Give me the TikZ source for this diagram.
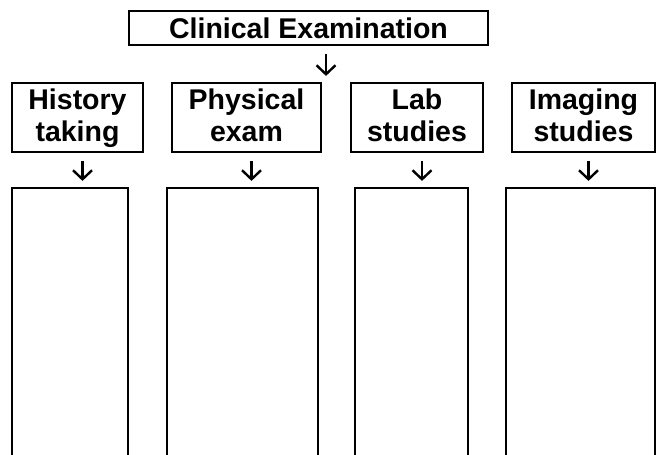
\documentclass[tikz,border=0pt]{standalone}
\usepackage{fontspec}
\setmainfont{Liberation Sans}
\usepackage{tikz}
\usetikzlibrary{arrows.meta}

\tikzset{
  box/.style={draw, line width=1.8pt, inner sep=0pt, align=center,
    font={\fontsize{28.5}{32}\selectfont\bfseries}},
  hdr/.style={box, minimum height=69, text height=53, text depth=6},
  colbox/.style={draw, line width=1.8pt, inner sep=0pt, minimum height=292},
  arr/.style={line width=2.4pt, -{Straight Barb[length=9pt,width=19pt]}}
}

\begin{document}
\begin{tikzpicture}[x=1pt,y=1pt,yscale=-1,xscale=1]
\useasboundingbox (0,0) rectangle (659,455);
\clip (0,0) rectangle (659,455);

% Text Node
\node [box, minimum width=359, minimum height=34] (exam) at (308.5,28) {Clinical Examination};
% Text Node
\node [hdr, minimum width=131] (hist) at (77.5,117.5) {History\\taking};
% Text Node
\node [hdr, minimum width=149] (phys) at (246.5,117.5) {Physical\\exam};
% Text Node
\node [hdr, minimum width=132] (lab) at (417,117.5) {Lab\\studies};
% Text Node
\node [hdr, minimum width=143] (imag) at (583.5,117.5) {Imaging\\studies};

%Rectangles
\node [colbox, minimum width=116] (histcol) at (70,334) {};
\node [colbox, minimum width=151] (physcol) at (242.5,334) {};
\node [colbox, minimum width=113] (labcol) at (411.5,334) {};
\node [colbox, minimum width=149] (imagcol) at (580.5,334) {};

%Straight Lines
\draw [arr] ([shift={(17.5,8)}]exam.south) -- ++(0,22);
\foreach \n in {hist,phys,lab,imag}
  \draw [arr] ([shift={(5,8)}]\n.south) -- ++(0,20);

\end{tikzpicture}
\end{document}
